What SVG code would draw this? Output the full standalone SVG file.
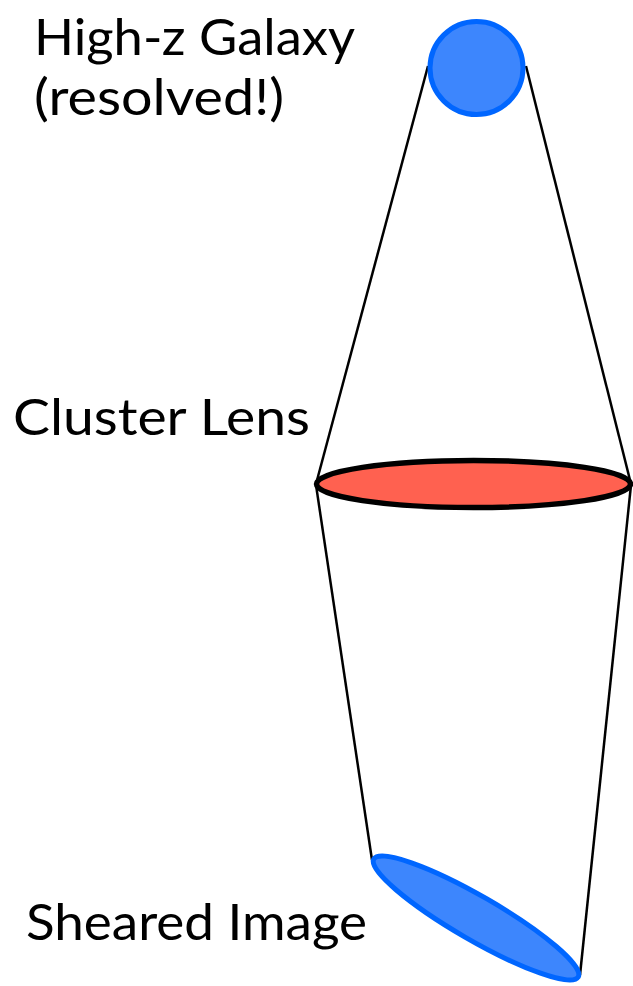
<svg xmlns="http://www.w3.org/2000/svg" width="633" height="986" viewBox="0 0 633 986">
<style>
.lbl{font-family:"Lato","Open Sans","Liberation Sans",sans-serif;font-size:51px;fill:#000}
.ray{stroke:#000;stroke-width:2.5;fill:none}
.blue{fill:#3d86fd;stroke:#0066ff;stroke-width:5}
</style>
<rect width="633" height="986" fill="#fff"/>
<g id="connectors">
<line class="ray" x1="428" y1="66" x2="316" y2="484"/>
<line class="ray" x1="526" y1="66" x2="631" y2="484"/>
<line class="ray" x1="316" y1="485" x2="372" y2="860"/>
<line class="ray" x1="631" y1="485" x2="580" y2="975"/>
</g>
<g id="galaxy">
<circle class="blue" cx="476.5" cy="68" r="46.5"/>
<text class="lbl" x="34" y="55" textLength="321" lengthAdjust="spacingAndGlyphs">High-z Galaxy</text>
<text class="lbl" x="34" y="115" textLength="250" lengthAdjust="spacingAndGlyphs">(resolved!)</text>
</g>
<g id="lens">
<ellipse cx="473.5" cy="484" rx="157" ry="23.5" fill="#ff6150" stroke="#000" stroke-width="5.5"/>
<text class="lbl" x="13" y="435" textLength="297" lengthAdjust="spacingAndGlyphs">Cluster Lens</text>
</g>
<g id="image">
<ellipse class="blue" cx="476" cy="918" rx="118" ry="22" transform="rotate(30 476 918)"/>
<text class="lbl" x="26" y="940" textLength="341" lengthAdjust="spacingAndGlyphs">Sheared Image</text>
</g>
</svg>
